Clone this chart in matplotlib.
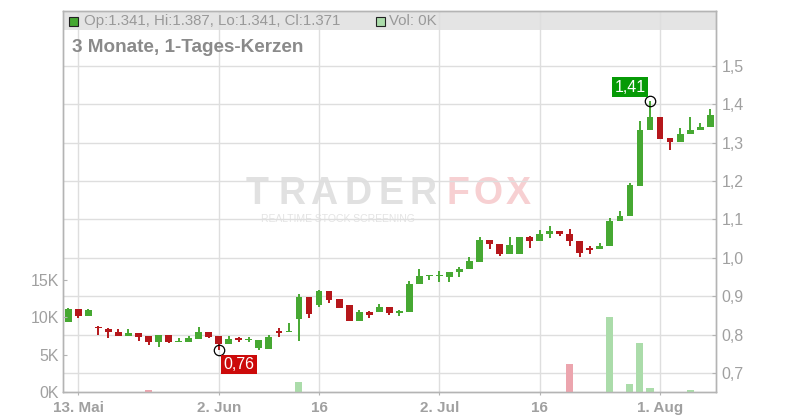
import matplotlib
matplotlib.use('Agg')
import matplotlib.pyplot as plt
import numpy as np
import pandas as pd
from matplotlib.patches import Rectangle

plt.rcParams['font.family'] = ['Liberation Sans', 'DejaVu Sans']

# ---------------- data ----------------
dates = pd.bdate_range('2025-05-12', '2025-08-08')

opens = [0.833, 0.866, 0.849, 0.820, 0.815, 0.807, 0.797, 0.804, 0.796, 0.781,
         0.798, 0.781, 0.781, 0.789, 0.807, 0.796, 0.776, 0.790, 0.785, 0.766,
         0.763, 0.808, 0.806, 0.841, 0.898, 0.876, 0.914, 0.893, 0.877, 0.836,
         0.859, 0.860, 0.872, 0.857, 0.860, 0.931, 0.952, 0.952, 0.951, 0.962,
         0.970, 0.990, 1.047, 1.037, 1.009, 1.011, 1.055, 1.045, 1.061, 1.070,
         1.063, 1.044, 1.023, 1.022, 1.030, 1.095, 1.108, 1.188, 1.332, 1.366,
         1.313, 1.301, 1.322, 1.332, 1.341]
highs = [0.869, 0.867, 0.866, 0.823, 0.817, 0.814, 0.814, 0.804, 0.796, 0.798,
         0.798, 0.792, 0.796, 0.820, 0.807, 0.796, 0.796, 0.795, 0.795, 0.786,
         0.799, 0.817, 0.831, 0.906, 0.898, 0.917, 0.914, 0.893, 0.877, 0.864,
         0.862, 0.880, 0.872, 0.865, 0.939, 0.971, 0.953, 0.966, 0.963, 0.977,
         1.003, 1.055, 1.047, 1.037, 1.055, 1.055, 1.058, 1.073, 1.084, 1.070,
         1.076, 1.044, 1.032, 1.039, 1.104, 1.123, 1.195, 1.356, 1.410, 1.366,
         1.313, 1.339, 1.368, 1.352, 1.387]
lows = [0.833, 0.844, 0.849, 0.800, 0.792, 0.797, 0.797, 0.784, 0.774, 0.769,
        0.777, 0.780, 0.781, 0.789, 0.790, 0.760, 0.776, 0.781, 0.780, 0.761,
        0.763, 0.794, 0.806, 0.784, 0.844, 0.873, 0.883, 0.870, 0.836, 0.836,
        0.844, 0.860, 0.852, 0.849, 0.860, 0.931, 0.943, 0.936, 0.936, 0.951,
        0.970, 0.990, 1.024, 1.006, 1.009, 1.011, 1.027, 1.045, 1.053, 1.058,
        1.032, 1.003, 1.010, 1.022, 1.030, 1.095, 1.108, 1.188, 1.332, 1.309,
        1.280, 1.301, 1.322, 1.332, 1.341]
closes = [0.867, 0.849, 0.863, 0.816, 0.806, 0.797, 0.804, 0.795, 0.781, 0.798,
          0.781, 0.783, 0.790, 0.807, 0.795, 0.776, 0.789, 0.785, 0.788, 0.786,
          0.793, 0.805, 0.807, 0.898, 0.855, 0.914, 0.891, 0.870, 0.836, 0.859,
          0.852, 0.872, 0.857, 0.862, 0.933, 0.953, 0.953, 0.953, 0.963, 0.971,
          0.992, 1.047, 1.035, 1.009, 1.034, 1.055, 1.045, 1.063, 1.070, 1.061,
          1.043, 1.014, 1.021, 1.031, 1.097, 1.110, 1.191, 1.334, 1.366, 1.309,
          1.301, 1.324, 1.334, 1.342, 1.371]
volume_k = [0, 0, 0, 0, 0, 0, 0, 0, 0.25, 0,
            0, 0, 0, 0, 0, 0, 0, 0, 0, 0,
            0, 0, 0, 1.33, 0, 0, 0, 0, 0, 0,
            0, 0, 0, 0, 0, 0, 0, 0, 0, 0,
            0, 0, 0, 0, 0, 0, 0, 0, 0, 0,
            3.73, 0, 0, 0, 10.0, 0, 1.07, 6.53, 0.53, 0,
            0, 0, 0.25, 0, 0]

tick_dates = ['2025-05-13', '2025-06-02', '2025-06-16', '2025-07-02', '2025-07-16', '2025-08-01']
tick_labels = ['13. Mai', '2. Jun', '16', '2. Jul', '16', '1. Aug']
price_ticks = [0.7, 0.8, 0.9, 1.0, 1.1, 1.2, 1.3, 1.4, 1.5]
price_labels = ['0,7', '0,8', '0,9', '1,0', '1,1', '1,2', '1,3', '1,4', '1,5']
vol_ticks = [0, 5, 10, 15]
vol_labels = ['0K', '5K', '10K', '15K']

high_label = '1,41'
low_label = '0,76'

# ---------------- styling ----------------
GREEN = '#46a832'
RED = '#b5171b'
VGREEN = '#abdcaa'
VRED = '#eca5ae'
GRID = '#dedede'
SPINE = '#b4b4b4'
TXT = '#a0a0a0'

fig = plt.figure(figsize=(8, 4.2), dpi=100)
ax = fig.add_axes([63 / 800, 1 - 392 / 420, 653 / 800, 381 / 420])
axv = ax.twinx()

x = np.arange(len(dates))
o = np.array(opens); h = np.array(highs); l = np.array(lows); c = np.array(closes)
up = c >= o
cols = np.where(up, GREEN, RED)

# header band
ax.add_patch(Rectangle((0, (392 - 30) / 381), 1, 1 - (392 - 30) / 381, transform=ax.transAxes,
                       facecolor='#e4e4e4', edgecolor='none', zorder=0.2))

# watermark (below grid lines)
for ch, px in zip('TRADER', [257, 292, 324, 358, 391, 423]):
    ax.text(px / 800, 1 - 204 / 420, ch, transform=fig.transFigure, fontsize=27, fontweight='bold',
            color='#e1e1e1', ha='center', va='baseline', zorder=0.3)
for ch, px in zip('FOX', [458, 488, 518]):
    ax.text(px / 800, 1 - 204 / 420, ch, transform=fig.transFigure, fontsize=27, fontweight='bold',
            color='#f7d0d2', ha='center', va='baseline', zorder=0.3)
ax.text(338 / 800, 1 - 219 / 420, 'REALTIME STOCK SCREENING', transform=fig.transFigure,
        fontsize=7.5, color='#e4e4e4', ha='center', va='center', zorder=0.3)

# candles
ax.vlines(x, l, h, colors=cols, lw=1.4, zorder=2)
body_h = np.maximum(np.abs(c - o), 0.0035)
ax.bar(x, body_h, bottom=np.minimum(o, c), width=0.68, color=cols, zorder=3)

ax.set_xlim(-0.53, 64.58)
ax.set_ylim(0.6505, 1.6433)
ax.set_yticks(price_ticks)
ax.set_yticklabels(price_labels)
tick_idx = dates.get_indexer(pd.to_datetime(tick_dates))
ax.set_xticks(tick_idx)
ax.set_xticklabels(tick_labels, fontweight='bold')
ax.set_axisbelow(True)
ax.grid(True, color=GRID, lw=1)

# volume
vcols = np.where(up, VGREEN, VRED)
axv.bar(x, volume_k, width=0.7, color=vcols, zorder=1)
axv.set_ylim(0, 50.9)
axv.set_yticks(vol_ticks)
axv.set_yticklabels(vol_labels)

ax.yaxis.tick_right()
axv.yaxis.tick_left()
ax.tick_params(axis='y', direction='in', length=3, pad=4, colors=SPINE, labelcolor=TXT, labelsize=11.5)
axv.tick_params(axis='y', direction='in', length=3, pad=3, colors=SPINE, labelcolor=TXT, labelsize=11.5)
ax.tick_params(axis='x', direction='out', length=2.5, pad=4, colors=SPINE, labelcolor=TXT, labelsize=11)
for a in (ax, axv):
    for s in a.spines.values():
        s.set_color(SPINE)
        s.set_linewidth(1)

# high / low annotations
ih = int(np.argmax(h)); il = int(np.argmin(l))
ax.plot(ih, h[ih], marker='o', mfc='none', mec='black', ms=7.5, mew=0.9, zorder=5)
ax.plot(il, l[il], marker='o', mfc='none', mec='black', ms=7.5, mew=0.9, zorder=5)
ax.annotate(high_label, (ih, h[ih]), xytext=(-14.5, 9.5), textcoords='offset points',
            ha='center', va='center', color='white', fontsize=11.5, zorder=6,
            bbox=dict(boxstyle='square,pad=0.15', fc='#069a06', ec='none'))
ax.annotate(low_label, (il, l[il]), xytext=(14.8, -10.4), textcoords='offset points',
            ha='center', va='center', color='white', fontsize=11.5, zorder=6,
            bbox=dict(boxstyle='square,pad=0.15', fc='#cc0a0a', ec='none'))

# header text
fig.add_artist(Rectangle((69 / 800, 1 - 26 / 420), 9 / 800, 9 / 420, transform=fig.transFigure,
                         facecolor=GREEN, edgecolor='#222222', lw=0.8))
fig.text(84 / 800, 1 - 21 / 420, 'Op:1.341, Hi:1.387, Lo:1.341, Cl:1.371',
         fontsize=10.8, color='#999999', va='center', ha='left')
fig.add_artist(Rectangle((376 / 800, 1 - 26 / 420), 9 / 800, 9 / 420, transform=fig.transFigure,
                         facecolor=VGREEN, edgecolor='#222222', lw=0.8))
fig.text(389 / 800, 1 - 21 / 420, 'Vol: 0K', fontsize=10.8, color='#999999', va='center', ha='left')
fig.text(72 / 800, 1 - 47 / 420, '3 Monate, 1-Tages-Kerzen', fontsize=13.6, fontweight='bold',
         color='#8a8a8a', va='center', ha='left')

fig.savefig('out.png', dpi=100)
